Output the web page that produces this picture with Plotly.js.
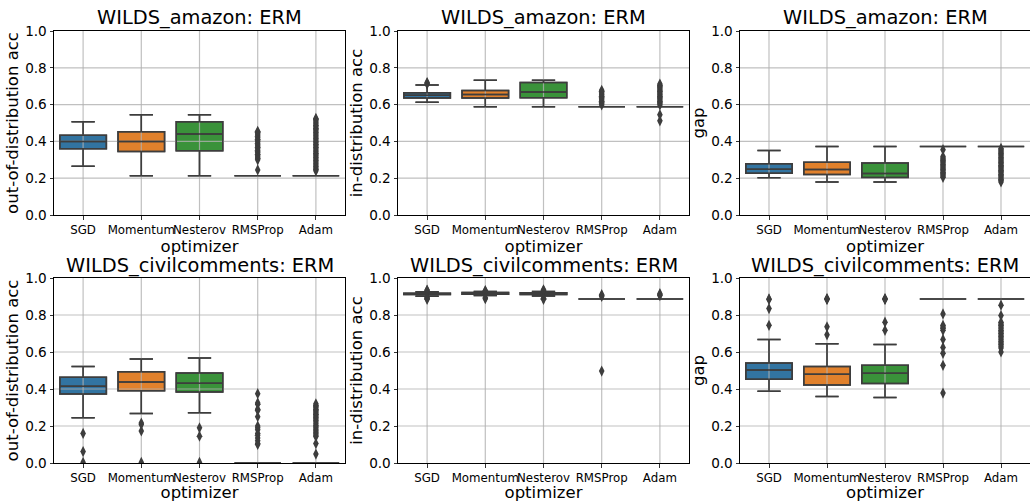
<!DOCTYPE html>
<html><head><meta charset="utf-8">
<script src="https://cdn.plot.ly/plotly-3.0.1.min.js"></script>
<style>html,body{margin:0;padding:0;background:#fff}</style>
</head><body><div id="chart" style="width:1030px;height:502px"></div>
<script>
const optimizers = ['SGD', 'Momentum', 'Nesterov', 'RMSProp', 'Adam'];
const yTicks = [0, 0.2, 0.4, 0.6, 0.8, 1.0];

// ---- WILDS_amazon: out-of-distribution acc ----
const amzOodLower  = [0.265, 0.213, 0.213, 0.213, 0.213];
const amzOodQ1     = [0.360, 0.345, 0.349, 0.213, 0.213];
const amzOodMedian = [0.400, 0.400, 0.440, 0.213, 0.213];
const amzOodQ3     = [0.433, 0.453, 0.507, 0.213, 0.213];
const amzOodUpper  = [0.507, 0.545, 0.545, 0.213, 0.213];
const amzOodOutliers = [
  [], [], [],
  [0.245, 0.300, 0.308, 0.315, 0.322, 0.330, 0.338, 0.345, 0.352, 0.360, 0.368, 0.375, 0.382, 0.390, 0.398, 0.405, 0.412, 0.420, 0.428, 0.435, 0.442, 0.450, 0.455],
  [0.240, 0.248, 0.256, 0.264, 0.272, 0.280, 0.288, 0.296, 0.304, 0.312, 0.320, 0.328, 0.336, 0.344, 0.352, 0.360, 0.368, 0.376, 0.384, 0.392, 0.400, 0.408, 0.416, 0.424, 0.432, 0.440, 0.448, 0.456, 0.464, 0.472, 0.480, 0.488, 0.496, 0.504, 0.512, 0.520, 0.525]
];

// ---- WILDS_amazon: in-distribution acc ----
const amzIdLower  = [0.613, 0.588, 0.588, 0.588, 0.588];
const amzIdQ1     = [0.636, 0.636, 0.637, 0.588, 0.588];
const amzIdMedian = [0.651, 0.655, 0.669, 0.588, 0.588];
const amzIdQ3     = [0.664, 0.677, 0.720, 0.588, 0.588];
const amzIdUpper  = [0.707, 0.732, 0.732, 0.588, 0.588];
const amzIdOutliers = [
  [0.712, 0.716, 0.720],
  [], [],
  [0.598, 0.605, 0.612, 0.618, 0.625, 0.632, 0.638, 0.645, 0.652, 0.658, 0.665, 0.672, 0.678],
  [0.512, 0.545, 0.598, 0.605, 0.612, 0.618, 0.625, 0.632, 0.638, 0.645, 0.652, 0.658, 0.665, 0.672, 0.678, 0.685, 0.692, 0.698, 0.705, 0.712]
];

// ---- WILDS_amazon: gap ----
const amzGapLower  = [0.202, 0.180, 0.179, 0.372, 0.372];
const amzGapQ1     = [0.227, 0.220, 0.204, 0.372, 0.372];
const amzGapMedian = [0.249, 0.247, 0.225, 0.372, 0.372];
const amzGapQ3     = [0.279, 0.287, 0.283, 0.372, 0.372];
const amzGapUpper  = [0.350, 0.372, 0.372, 0.372, 0.372];
const amzGapOutliers = [
  [], [], [],
  [0.205, 0.212, 0.219, 0.226, 0.233, 0.240, 0.247, 0.254, 0.261, 0.268, 0.275, 0.282, 0.289, 0.296, 0.303, 0.310, 0.318, 0.355],
  [0.180, 0.187, 0.194, 0.201, 0.208, 0.215, 0.222, 0.229, 0.236, 0.243, 0.250, 0.257, 0.264, 0.271, 0.278, 0.285, 0.292, 0.299, 0.306, 0.313, 0.320, 0.327, 0.334, 0.341, 0.348, 0.355, 0.362]
];

// ---- WILDS_civilcomments: out-of-distribution acc ----
const civOodLower  = [0.244, 0.267, 0.271, 0.0, 0.0];
const civOodQ1     = [0.373, 0.391, 0.384, 0.0, 0.0];
const civOodMedian = [0.415, 0.438, 0.431, 0.0, 0.0];
const civOodQ3     = [0.464, 0.493, 0.486, 0.0, 0.0];
const civOodUpper  = [0.522, 0.562, 0.567, 0.0, 0.0];
const civOodOutliers = [
  [0.160, 0.062, 0.003],
  [0.216, 0.208, 0.173, 0.003],
  [0.190, 0.145, 0.003],
  [0.375, 0.325, 0.318, 0.290, 0.284, 0.250, 0.200, 0.190, 0.180, 0.160, 0.150, 0.135, 0.120, 0.105, 0.100],
  [0.320, 0.312, 0.305, 0.298, 0.290, 0.284, 0.277, 0.270, 0.264, 0.258, 0.250, 0.244, 0.238, 0.230, 0.222, 0.212, 0.203, 0.196, 0.189, 0.180, 0.173, 0.165, 0.158, 0.150, 0.143, 0.105, 0.048]
];

// ---- WILDS_civilcomments: in-distribution acc ----
const civIdLower  = [0.902, 0.905, 0.903, 0.887, 0.887];
const civIdQ1     = [0.911, 0.912, 0.911, 0.887, 0.887];
const civIdMedian = [0.914, 0.916, 0.915, 0.887, 0.887];
const civIdQ3     = [0.918, 0.921, 0.920, 0.887, 0.887];
const civIdUpper  = [0.926, 0.927, 0.927, 0.887, 0.887];
const civIdOutliers = [
  [0.932, 0.935, 0.895, 0.890, 0.885],
  [0.932, 0.929, 0.893, 0.888],
  [0.933, 0.936, 0.890, 0.885],
  [0.900, 0.905, 0.910, 0.497],
  [0.905, 0.910, 0.915]
];

// ---- WILDS_civilcomments: gap ----
const civGapLower  = [0.388, 0.360, 0.354, 0.887, 0.887];
const civGapQ1     = [0.453, 0.421, 0.430, 0.887, 0.887];
const civGapMedian = [0.503, 0.480, 0.485, 0.887, 0.887];
const civGapQ3     = [0.541, 0.521, 0.528, 0.887, 0.887];
const civGapUpper  = [0.668, 0.645, 0.641, 0.887, 0.887];
const civGapOutliers = [
  [0.887, 0.884, 0.835, 0.744],
  [0.889, 0.886, 0.884, 0.736, 0.693],
  [0.889, 0.886, 0.884, 0.761, 0.717],
  [0.806, 0.744, 0.735, 0.729, 0.717, 0.668, 0.625, 0.593, 0.528, 0.378],
  [0.853, 0.797, 0.761, 0.752, 0.744, 0.735, 0.727, 0.718, 0.710, 0.701, 0.692, 0.684, 0.675, 0.666, 0.657, 0.648, 0.640, 0.631, 0.622, 0.600]
];

const titles  = ['WILDS_amazon: ERM', 'WILDS_amazon: ERM', 'WILDS_amazon: ERM',
                 'WILDS_civilcomments: ERM', 'WILDS_civilcomments: ERM', 'WILDS_civilcomments: ERM'];
const yLabels = ['out-of-distribution acc', 'in-distribution acc', 'gap',
                 'out-of-distribution acc', 'in-distribution acc', 'gap'];
const xLabel = 'optimizer';

const panels = [
  [amzOodLower, amzOodQ1, amzOodMedian, amzOodQ3, amzOodUpper, amzOodOutliers],
  [amzIdLower, amzIdQ1, amzIdMedian, amzIdQ3, amzIdUpper, amzIdOutliers],
  [amzGapLower, amzGapQ1, amzGapMedian, amzGapQ3, amzGapUpper, amzGapOutliers],
  [civOodLower, civOodQ1, civOodMedian, civOodQ3, civOodUpper, civOodOutliers],
  [civIdLower, civIdQ1, civIdMedian, civIdQ3, civIdUpper, civIdOutliers],
  [civGapLower, civGapQ1, civGapMedian, civGapQ3, civGapUpper, civGapOutliers]
];

// ---- styling ----
const W = 1030, H = 502;
const boxColors = ['#3274a1', '#e1812c', '#3a923a', '#c03d3e', '#9372b2'];
const edge = '#3d3d3d';
const gridColor = 'rgba(176,176,176,0.8)';
const FONT = 'DejaVu Sans, sans-serif';
const colX = [[54, 345], [398, 689], [740, 1030]];
const rowY = [[31, 215], [278, 463]];
const pos = optimizers.map((_, k) => k);        // category positions on the axis
const xRange = [-0.5, optimizers.length - 0.5];

const data = [];
const layout = {
  width: W, height: H, autosize: false,
  margin: {l: 0, r: 0, t: 0, b: 0},
  paper_bgcolor: '#fff', plot_bgcolor: '#fff',
  font: {family: FONT, color: '#000'},
  showlegend: false, boxmode: 'overlay',
  annotations: []
};

const boxTrace = (xa, ya, k, st, fill) => ({
  type: 'box', xaxis: xa, yaxis: ya,
  x: [pos[k]], q1: [st[1][k]], median: [st[2][k]], q3: [st[3][k]],
  lowerfence: [st[0][k]], upperfence: [st[4][k]],
  fillcolor: fill, line: {color: edge, width: 1.5},
  width: 0.8, whiskerwidth: 0.5, boxpoints: false, hoverinfo: 'skip'
});

panels.forEach((p, idx) => {
  const i = idx + 1, o = idx + 7;
  const row = Math.floor(idx / 3), col = idx % 3;
  const xa = 'x' + i, ya = 'y' + i, xo = 'x' + o, yo = 'y' + o;

  // layer 1: filled boxes
  pos.forEach(k => data.push(boxTrace(xa, ya, k, p, boxColors[k])));
  // layer 2: grid lines, above the box fill (matplotlib-style)
  const gx = [], gy = [];
  pos.forEach(k => { gx.push(k, k, null); gy.push(yTicks[0], yTicks[yTicks.length - 1], null); });
  yTicks.slice(1, -1).forEach(t => { gx.push(xRange[0], xRange[1], null); gy.push(t, t, null); });
  data.push({type: 'scatter', mode: 'lines', xaxis: xa, yaxis: ya, x: gx, y: gy,
    line: {color: gridColor, width: 1.2}, hoverinfo: 'skip', cliponaxis: true});
  // layer 3 (overlay subplot): box edges, whiskers, medians and fliers above grid
  pos.forEach(k => {
    data.push(boxTrace(xo, yo, k, p, 'rgba(0,0,0,0)'));
    const outl = p[5][k];
    if (outl.length) {
      data.push({
        type: 'scatter', mode: 'markers', xaxis: xo, yaxis: yo,
        x: outl.map(() => pos[k]), y: outl,
        marker: {symbol: 'diamond-tall', size: 8, color: edge},
        hoverinfo: 'skip'
      });
    }
  });

  const sfx = i === 1 ? '' : i;
  const xdom = [colX[col][0] / W, colX[col][1] / W];
  const ydom = [1 - rowY[row][1] / H, 1 - rowY[row][0] / H];
  layout['xaxis' + sfx] = {
    domain: xdom, anchor: ya, range: xRange,
    tickvals: pos, ticktext: optimizers,
    showgrid: false, zeroline: false,
    showline: true, mirror: true, linecolor: '#000', linewidth: 1,
    ticks: 'outside', ticklen: 3.5, tickwidth: 0.8, tickcolor: '#000',
    tickangle: 0,
    tickfont: {size: 11.8, family: FONT, color: '#000'},
    title: {text: xLabel, font: {size: 16.5, family: FONT, color: '#000'}, standoff: 2},
    automargin: false, fixedrange: true
  };
  layout['yaxis' + sfx] = {
    domain: ydom, anchor: xa,
    range: [0, 1], tickvals: yTicks, tickformat: '.1f',
    showgrid: false, zeroline: false,
    showline: true, mirror: true, linecolor: '#000', linewidth: 1,
    ticks: 'outside', ticklen: 3.5, tickwidth: 0.8, tickcolor: '#000',
    tickfont: {size: 13.6, family: FONT, color: '#000'},
    title: {text: yLabels[idx], font: {size: 16.5, family: FONT, color: '#000'}, standoff: 2},
    automargin: false, fixedrange: true
  };
  layout['xaxis' + o] = {overlaying: xa, anchor: yo, range: xRange, visible: false,
    showgrid: false, zeroline: false, fixedrange: true};
  layout['yaxis' + o] = {overlaying: ya, anchor: xo, range: [0, 1], visible: false,
    showgrid: false, zeroline: false, fixedrange: true};

  layout.annotations.push({
    text: titles[idx], xref: 'paper', yref: 'paper',
    x: (colX[col][0] + colX[col][1]) / 2 / W, y: 1 - (rowY[row][0] - 13) / H,
    xanchor: 'center', yanchor: 'middle', showarrow: false,
    font: {size: 19.4, family: FONT, color: '#000'}
  });
});

Plotly.newPlot('chart', data, layout, {staticPlot: true, displayModeBar: false});
</script>
</body></html>
